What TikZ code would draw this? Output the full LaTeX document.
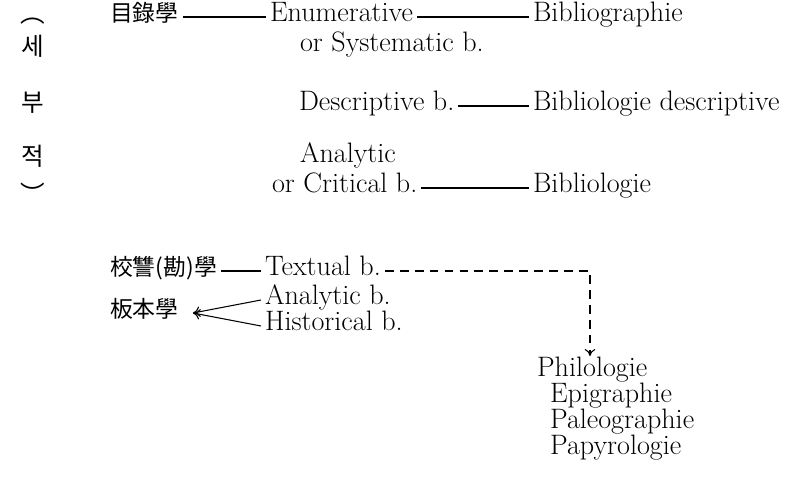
\documentclass[tikz,border=0pt]{standalone}
\usepackage{fontspec}
\newfontfamily\kr{Noto Sans CJK KR}
\usetikzlibrary{arrows.meta}

\begin{document}
\begin{tikzpicture}[x=0.02cm, y=-0.02cm, line width=0.6pt,
  every node/.style={anchor=west, inner xsep=2pt, inner ysep=0pt, text height=1.5ex, text depth=0.25ex, font=\fontsize{16}{19}\selectfont},
  kor/.style={font=\kr\fontsize{13}{15}\selectfont},
  vert/.style={anchor=center, inner sep=0pt, text height=0.75em, text depth=0.15em, font=\kr\fontsize{14}{16}\selectfont},
  dashline/.style={dash pattern=on 5pt off 3.5pt},
  tipto/.style={-{To[length=4pt,width=6pt]}}]
\useasboundingbox (0,0) rectangle (794,480);
% vertical heading
\node[vert] (lpar) at (33,17) {︵};
\node[vert] (se) at (33,50) {세};
\node[vert] (bu) at (33,106) {부};
\node[vert] (jeok) at (33,160) {적};
\node[vert] (rpar) at (33,198) {︶};
% upper block
\node[kor] (mok) at (106,17) {目錄學};
\node (enum) at (266,17) {Enumerative};
\node (sys) at (296,47) {or Systematic b.};
\node (bgr) at (529,17) {Bibliographie};
\node (desc) at (295,106) {Descriptive b.};
\node (bdes) at (529,106) {Bibliologie descriptive};
\node (anal) at (296,158) {Analytic};
\node (crit) at (268,188) {or Critical b.};
\node (blog) at (529,188) {Bibliologie};
% lower block
\node[kor] (kyo) at (106,271) {校讐(勘)學};
\node (text) at (261,271) {Textual b.};
\node[kor] (pan) at (106,313) {板本學};
\node (anab) at (261,300) {Analytic b.};
\node (hist) at (261,326) {Historical b.};
\coordinate (tip) at (193,313);
\coordinate (turn) at (590,271);
\node (phil) at (533,372) {Philologie};
\node (epi) at (546,397.5) {Epigraphie};
\node (paleo) at (546,423.5) {Paleographie};
\node (papy) at (546,449.5) {Papyrologie};

\draw (mok.east) -- (enum.west);
\draw (enum.east) -- (bgr.west);
\draw (desc.east) -- (bdes.west);
\draw (crit.east) -- (blog.west);
\draw (kyo.east) -- (text.west);
\draw[tipto] (anab.west) -- (tip);
\draw[tipto] (hist.west) -- (tip);
\draw[dashline,tipto,shorten >=5pt] (text.east) -- (turn) -- (turn |- phil.north);
\end{tikzpicture}
\end{document}
